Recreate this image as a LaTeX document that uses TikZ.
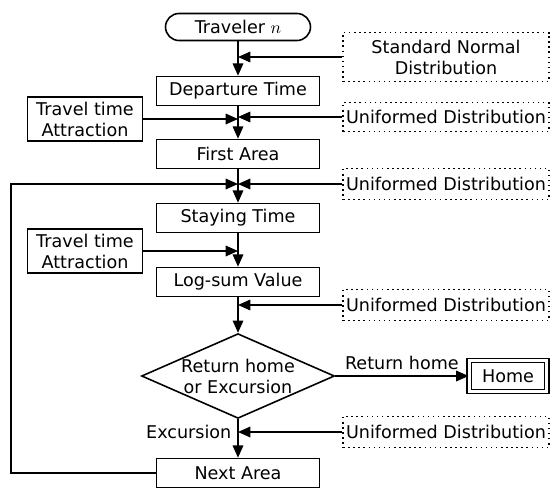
\documentclass[tikz,border=0pt]{standalone}
\usepackage{fontspec}
\setmainfont{DejaVu Sans}
\usetikzlibrary{arrows.meta,shapes.geometric}
\begin{document}
\begin{tikzpicture}[x=0.02cm, y=-0.02cm, line width=0.9pt,
  font=\fontsize{10}{12}\selectfont,
  >={Triangle[length=7pt,width=6pt]},
  main/.style = {draw, minimum width=3.26cm, minimum height=0.58cm, inner sep=0pt},
  side/.style = {draw, minimum width=2.3cm, minimum height=0.88cm, inner sep=0pt, align=center},
  dist/.style = {draw, dotted, minimum width=4.12cm, minimum height=0.62cm, inner sep=0pt, align=center}]
\useasboundingbox (0,0) rectangle (550,490);
% main column
\node[main, rounded corners=0.27cm, minimum width=2.9cm, minimum height=0.54cm] (trav) at (238,27) {Traveler $n$};
\node[main] (dep) at (238,91) {Departure Time};
\node[main] (first) at (238,154) {First Area};
\node[main] (stay) at (238,218) {Staying Time};
\node[main] (logsum) at (238,282) {Log-sum Value};
\node[draw, diamond, shape aspect=2.27, minimum width=3.86cm, inner sep=0pt, align=center] (choice) at (238,376) {Return home\\or Excursion};
\node[main] (next) at (238,473) {Next Area};
\node[draw, double, double distance=1.5pt, minimum width=1.55cm, minimum height=0.62cm] (home) at (508,376) {Home};
% inputs
\node[side] (tt1) at (85,119) {Travel time\\Attraction};
\node[side] (tt2) at (85,251) {Travel time\\Attraction};
\node[dist, minimum height=0.98cm] (snd) at (446,57) {Standard Normal\\Distribution};
\node[dist, minimum height=0.58cm] (ud1) at (446,117) {Uniformed Distribution};
\node[dist] (ud2) at (446,184) {Uniformed Distribution};
\node[dist] (ud3) at (446,305) {Uniformed Distribution};
\node[dist] (ud4) at (446,432) {Uniformed Distribution};
% joints on the main line
\coordinate (j1) at (trav |- snd);
\coordinate (j2) at (trav |- ud1);
\coordinate (j3) at (trav |- ud2);
\coordinate (j4) at (trav |- ud3);
\coordinate (j5) at (trav |- ud4);
\coordinate (t1) at (trav |- tt1);
\coordinate (t2) at (trav |- tt2);
\node[left] (exc) at (j5) {Excursion};
% flow
\draw[->] (trav) -- (dep);
\draw[->] (dep) -- (first);
\draw[->] (first) -- (stay);
\draw[->] (stay) -- (logsum);
\draw[->] (logsum) -- (choice);
\draw[->] (choice) -- (next);
\draw[->] (choice) -- node[above] {Return home} (home);
\draw[->] (next.west) -- ++(-145,0) |- (j3);
\draw[->] (snd) -- (j1);
\draw[->] (ud1) -- (j2);
\draw[->] (ud2) -- (j3);
\draw[->] (ud3) -- (j4);
\draw[->] (ud4) -- (j5);
\draw[->] (tt1) -- (t1);
\draw[->] (tt2) -- (t2);
\end{tikzpicture}
\end{document}
